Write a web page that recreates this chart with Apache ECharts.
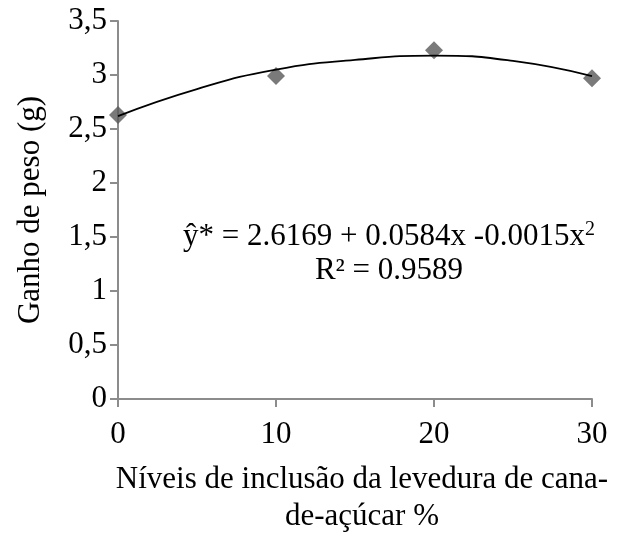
<!DOCTYPE html>
<html>
<head>
<meta charset="utf-8">
<script src="https://cdn.jsdelivr.net/npm/echarts@6/dist/echarts.min.js"></script>
<style>
  html, body { margin: 0; padding: 0; background: #fff; }
  #main { width: 620px; height: 535px; }
</style>
</head>
<body>
<div id="main"></div>
<script>
// dados observados
var niveis = [0, 10, 20, 30];
var ganho = [2.63, 2.99, 3.23, 2.97];
// curva de tendência
var curvaX = [0, 5, 10, 15, 20, 25, 30];
var curvaY = [2.62, 2.87, 3.05, 3.14, 3.18, 3.13, 2.99];
var yTicks = [0, 0.5, 1, 1.5, 2, 2.5, 3, 3.5];

var fonte = '"Liberation Serif", "Times New Roman", serif';
var chart = echarts.init(document.getElementById('main'));

var option = {
  animation: false,
  grid: { left: 118, right: 28, top: 21, bottom: 136, containLabel: false },
  xAxis: {
    type: 'value',
    min: 0,
    max: 30,
    interval: 10,
    splitLine: { show: false },
    axisLine: { lineStyle: { color: '#8c8c8c', width: 2 } },
    axisTick: { show: true, length: 8, lineStyle: { color: '#8c8c8c', width: 2 } },
    axisLabel: { color: '#000', fontFamily: fonte, fontSize: 31, margin: 20 }
  },
  yAxis: {
    type: 'value',
    min: 0,
    max: 3.5,
    interval: 0.5,
    splitLine: { show: false },
    axisLine: { show: true, lineStyle: { color: '#8c8c8c', width: 2 } },
    axisTick: { show: true, length: 8, lineStyle: { color: '#8c8c8c', width: 2 } },
    axisLabel: {
      color: '#000', fontFamily: fonte, fontSize: 31, margin: 11,
      formatter: function (v) { return String(v).replace('.', ','); }
    }
  },
  series: [
    {
      type: 'line',
      data: curvaX.map(function (x, i) { return [x, curvaY[i]]; }),
      smooth: 0.5,
      showSymbol: false,
      lineStyle: { color: '#000', width: 1.8 },
      z: 3
    },
    {
      type: 'scatter',
      data: niveis.map(function (x, i) { return [x, ganho[i]]; }),
      symbol: 'diamond',
      symbolSize: [18, 18],
      itemStyle: { color: '#595959' },
      z: 2
    }
  ],
  graphic: [
    {
      type: 'text',
      style: {
        x: 389, y: 237,
        text: '{a|ŷ* = 2.6169 + 0.0584x -0.0015x}{s|2}',
        align: 'center', verticalAlign: 'middle',
        rich: {
          a: { fontFamily: fonte, fontSize: 31, fill: '#000' },
          s: { fontFamily: fonte, fontSize: 20, fill: '#000', verticalAlign: 'top', padding: [0, 0, 14, 0] }
        }
      }
    },
    {
      type: 'text',
      style: {
        x: 389, y: 271,
        text: 'R² = 0.9589',
        align: 'center', verticalAlign: 'middle',
        font: '31px ' + fonte, fill: '#000'
      }
    },
    {
      type: 'text',
      style: {
        x: 362, y: 498,
        text: 'Níveis de inclusão da levedura de cana-\nde-açúcar %',
        align: 'center', verticalAlign: 'middle',
        font: '31px ' + fonte, fill: '#000', lineHeight: 37
      }
    },
    {
      type: 'text',
      x: 31, y: 210,
      rotation: Math.PI / 2,
      style: {
        x: 0, y: 0,
        text: 'Ganho de peso (g)',
        align: 'center', verticalAlign: 'middle',
        font: '31px ' + fonte, fill: '#000'
      }
    }
  ]
};

chart.setOption(option);
</script>
</body>
</html>
